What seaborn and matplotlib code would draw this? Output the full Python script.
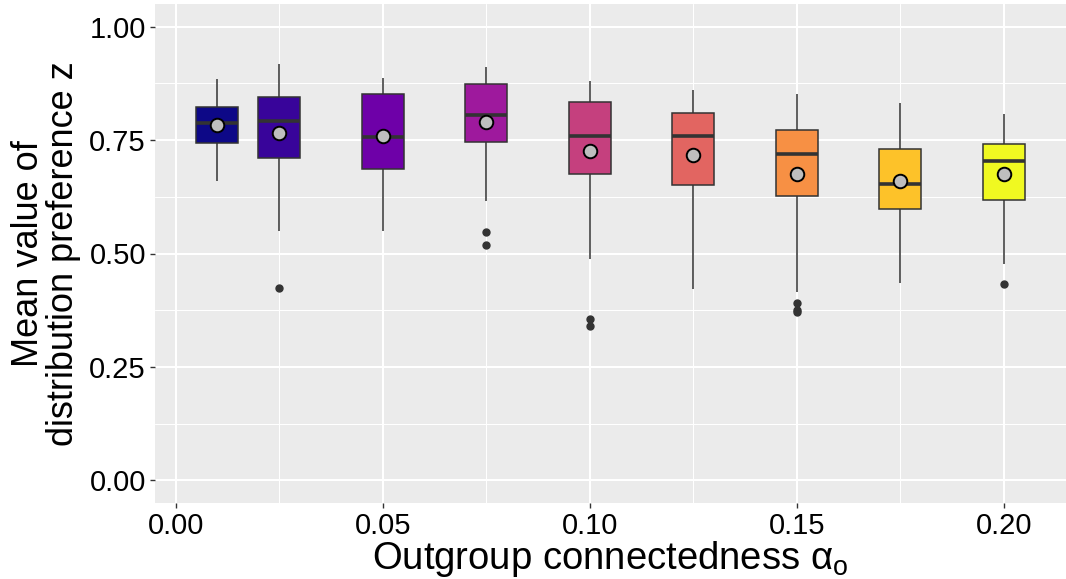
import numpy as np
import pandas as pd
import matplotlib
matplotlib.use("Agg")
import matplotlib.pyplot as plt
from matplotlib import colors as mcolors
from matplotlib.ticker import MultipleLocator, FormatStrFormatter
import seaborn as sns

# Outgroup connectedness levels
alpha_o = [0.01, 0.025, 0.05, 0.075, 0.10, 0.125, 0.15, 0.175, 0.20]

# Box summaries of mean distribution preference z per level
whisker_low = [0.659, 0.550, 0.550, 0.616, 0.488, 0.421, 0.415, 0.435, 0.476]
q1 = [0.743, 0.710, 0.686, 0.745, 0.675, 0.650, 0.627, 0.598, 0.619]
median = [0.788, 0.793, 0.757, 0.806, 0.760, 0.758, 0.719, 0.654, 0.703]
q3 = [0.822, 0.846, 0.852, 0.874, 0.834, 0.810, 0.773, 0.731, 0.742]
whisker_high = [0.885, 0.918, 0.887, 0.912, 0.880, 0.860, 0.852, 0.832, 0.807]
outliers = [[], [0.423], [], [0.547, 0.518], [0.356, 0.340], [],
            [0.391, 0.376, 0.371], [], [0.432]]
means = [0.783, 0.766, 0.758, 0.789, 0.726, 0.717, 0.676, 0.659, 0.675]

x_ticks = [0.00, 0.05, 0.10, 0.15, 0.20]
y_ticks = [0.00, 0.25, 0.50, 0.75, 1.00]

# Long-form table whose quartiles / whiskers / outliers reproduce the summaries
rows = []
for a, lo, b1, m, b3, hi, out in zip(alpha_o, whisker_low, q1, median, q3,
                                     whisker_high, outliers):
    vals = [lo, hi] + [b1] * 10 + [m] * 10 + [b3] * 10 + list(out)
    rows += [(a, v) for v in vals]
df = pd.DataFrame(rows, columns=["alpha", "z"])

# Continuous plasma fill over the connectedness range
norm = mcolors.Normalize(min(alpha_o), max(alpha_o))
cmap = plt.get_cmap("plasma")
palette = {a: cmap(norm(a)) for a in alpha_o}

sns.set_theme(style="darkgrid", rc={
    "axes.facecolor": "#EBEBEB",
    "grid.color": "white",
    "axes.edgecolor": "#EBEBEB",
})
plt.rcParams["font.family"] = ["Liberation Sans", "DejaVu Sans"]
plt.rcParams["mathtext.fontset"] = "custom"
plt.rcParams["mathtext.rm"] = "Liberation Sans"
plt.rcParams["mathtext.it"] = "Liberation Sans:italic"

fig, ax = plt.subplots(figsize=(10.66, 5.79), dpi=100)
fig.subplots_adjust(left=155 / 1066, right=1.0, top=1 - 4 / 579, bottom=1 - 503 / 579)

sns.boxplot(
    data=df, x="alpha", y="z", hue="alpha", palette=palette,
    native_scale=True, width=0.675, saturation=1, legend=False,
    linecolor="#333333", linewidth=1.1, fliersize=5, showcaps=False,
    medianprops=dict(linewidth=2.6, color="#333333"),
    flierprops=dict(marker="o", markerfacecolor="#333333",
                    markeredgecolor="#333333"),
    ax=ax,
)

sns.scatterplot(x=alpha_o, y=means, color="#BEBEBE", edgecolor="black",
                s=95, linewidth=1.4, zorder=5, legend=False, ax=ax)

ax.set_xlim(-0.005, 0.215)
ax.set_ylim(-0.05, 1.05)
ax.set_xticks(x_ticks)
ax.set_yticks(y_ticks)
ax.xaxis.set_major_formatter(FormatStrFormatter("%.2f"))
ax.yaxis.set_major_formatter(FormatStrFormatter("%.2f"))
ax.xaxis.set_minor_locator(MultipleLocator(0.025))
ax.yaxis.set_minor_locator(MultipleLocator(0.125))
ax.grid(which="major", color="white", linewidth=1.5)
ax.grid(which="minor", color="white", linewidth=0.75)
ax.set_axisbelow(True)
for s in ax.spines.values():
    s.set_visible(False)

ax.tick_params(which="major", direction="out", length=3.5, width=1.0,
               color="#333333", labelsize=21, labelcolor="black", pad=3,
               bottom=True, left=True)
ax.tick_params(which="minor", length=0)

ax.set_xlabel(r"Outgroup connectedness $\mathrm{\alpha}_\mathrm{o}$",
              fontsize=27.5, color="black", labelpad=-1)
ax.set_ylabel("Mean value of\ndistribution preference z", fontsize=26,
              color="black", linespacing=1.0, labelpad=6)

fig.savefig("out.png", dpi=100)
